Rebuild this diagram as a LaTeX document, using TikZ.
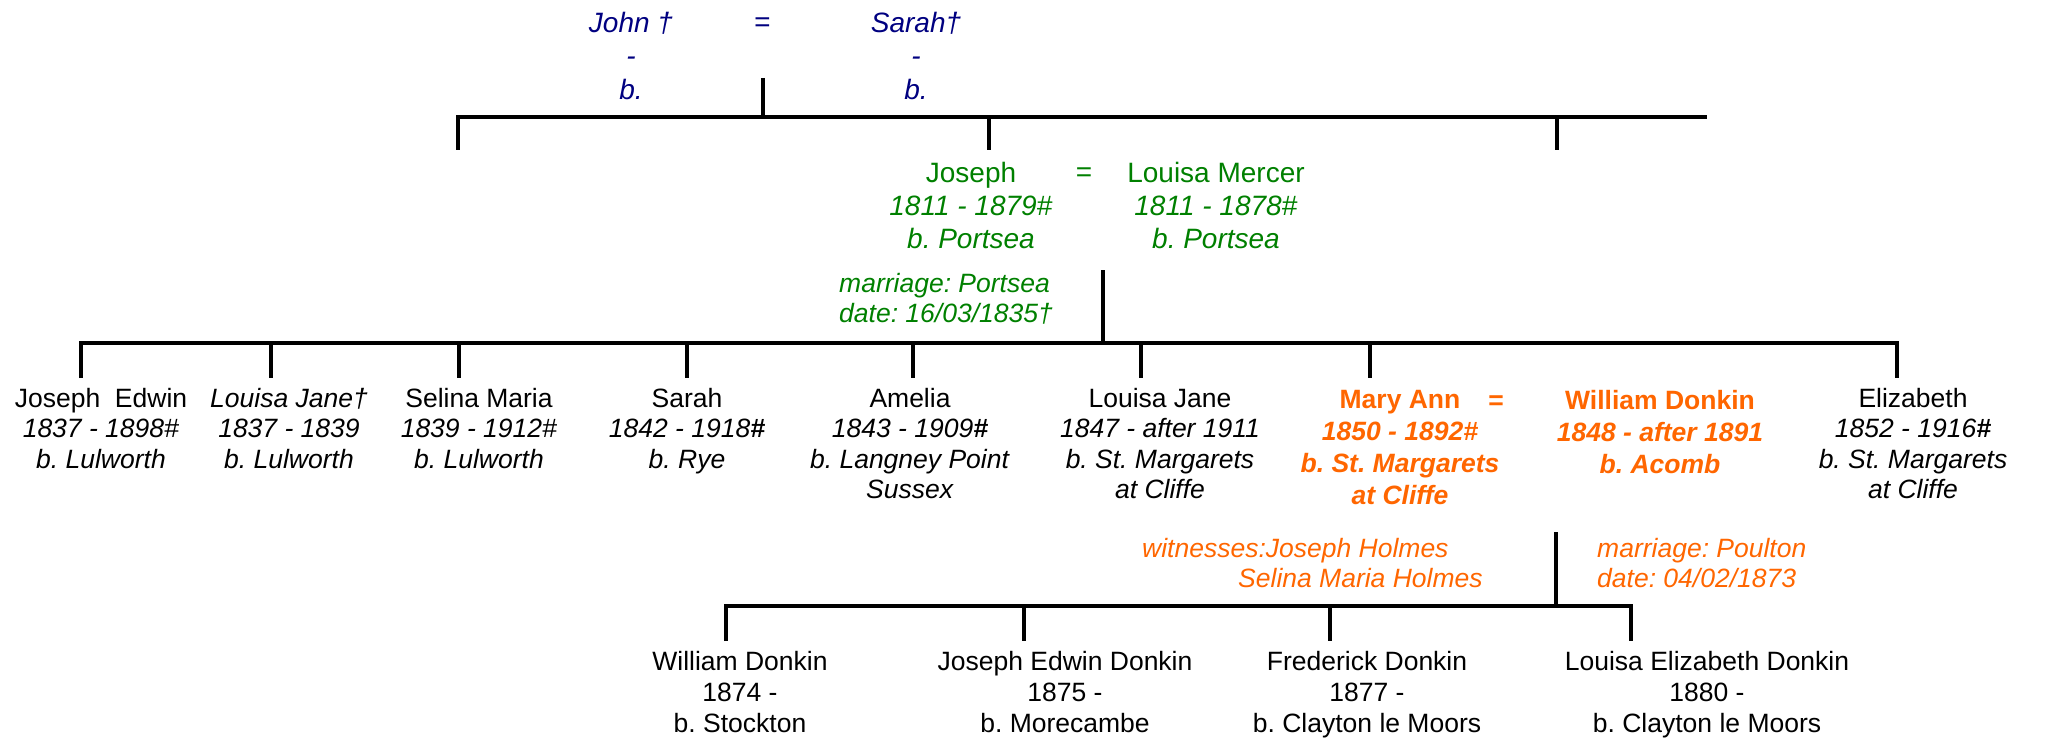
\documentclass[tikz,border=0pt]{standalone}
\usepackage{fontspec}
\setmainfont{Liberation Sans}
\frenchspacing
\definecolor{topblue}{RGB}{0,0,128}
\definecolor{famgreen}{RGB}{0,128,0}
\definecolor{donkin}{RGB}{255,102,0}

\begin{document}
\begin{tikzpicture}[x=1pt, y=-1pt,
    bar/.style={line width=4.5pt},
    every node/.style={inner sep=0pt, anchor=north, align=center,
      font=\fontsize{26.5}{30.5}\selectfont},
    gen1/.style={text=topblue, font=\fontsize{28}{33.5}\selectfont\itshape},
    gen2/.style={text=famgreen, font=\fontsize{28}{33}\selectfont},
    note/.style={text=famgreen, align=left, anchor=north west,
      font=\fontsize{26.5}{30.5}\selectfont\itshape},
    wed/.style={text=donkin, font=\fontsize{26.5}{32}\selectfont\bfseries},
    grand/.style={font=\fontsize{26.5}{31}\selectfont}]
  \useasboundingbox (0,0) rectangle (2051,741);

  % Grandparents
  \node[gen1] (john) at (631,11.6) {John †\\-\\b.};
  \node[gen1, anchor=base] (eq1) at (762,32) {=};
  \node[gen1] (sarahsr) at (916,11.6) {Sarah†\\-\\b.};

  % Parents
  \node[gen2] (joseph) at (971,161.6) {Joseph\\\textit{1811 - 1879\#}\\\textit{b. Portsea}};
  \node[gen2, anchor=base] (eq2) at (1084,182) {=};
  \node[gen2] (lmercer) at (1216,161.6) {Louisa Mercer\\\textit{1811 - 1878\#}\\\textit{b. Portsea}};
  \node[note] (wed1) at (839,272.6) {marriage: Portsea\\date: 16/03/1835†};

  % Children
  \node (jedwin) at (101,387.6) {Joseph\ \ Edwin\\\textit{1837 - 1898\#}\\\textit{b. Lulworth}};
  \node (ljanesr) at (289,387.6) {\textit{Louisa Jane†}\\\textit{1837 - 1839}\\\textit{b. Lulworth}};
  \node (selina) at (479,387.6) {Selina Maria\\\textit{1839 - 1912\#}\\\textit{b. Lulworth}};
  \node (sarah) at (687,387.6) {Sarah\\\textit{1842 - 1918\textbf{\#}}\\\textit{b. Rye}};
  \node (amelia) at (910,387.6) {Amelia\\\textit{1843 - 1909\textbf{\#}}\\\textit{b. Langney Point}\\\textit{Sussex}};
  \node (ljane) at (1160,387.6) {Louisa Jane\\\textit{1847 - after 1911}\\\textit{b. St. Margarets}\\\textit{at Cliffe}};
  \node[wed] (maryann) at (1400,389.6) {Mary Ann\\\textit{1850 - 1892\#}\\\textit{b. St. Margarets}\\\textit{at Cliffe}};
  \node[wed, anchor=base] (eq3) at (1496,409) {=};
  \node[wed] (wdonkin) at (1660,389.6) {William Donkin\\\textit{1848 - after 1891}\\\textit{b. Acomb}};
  \node (elizabeth) at (1913,387.6) {Elizabeth\\\textit{1852 - 1916\textbf{\#}}\\\textit{b. St. Margarets}\\\textit{at Cliffe}};

  \node[note, text=donkin] (witness) at (1142,537.6) {witnesses:Joseph Holmes\\\hspace*{96pt}Selina Maria Holmes};
  \node[note, text=donkin] (wed2) at (1597,537.6) {marriage: Poulton\\date: 04/02/1873};

  % Grandchildren
  \node[grand] (gwilliam) at (740,650.6) {William Donkin\\1874 -\\b. Stockton};
  \node[grand] (gjoseph) at (1065,650.6) {Joseph Edwin Donkin\\1875 -\\b. Morecambe};
  \node[grand] (gfrederick) at (1367,650.6) {Frederick Donkin\\1877 -\\b. Clayton le Moors};
  \node[grand] (glouisa) at (1707,650.6) {Louisa Elizabeth Donkin\\1880 -\\b. Clayton le Moors};

  % Lines
  \coordinate (top) at (763,78);
  \coordinate (tend) at (1707,117);
  \coordinate (t1) at (458,150);
  \coordinate (t2) at (989,150);
  \coordinate (t3) at (1557,150);
  \draw[bar] (top) -- (top |- tend);
  \draw[bar] (t1) |- (tend);
  \draw[bar] (t2 |- tend) -- (t2);
  \draw[bar] (t3 |- tend) -- (t3);

  \coordinate (wed1top) at (1103,270);
  \coordinate (kbar) at (1103,343);
  \foreach \n/\x in {1/81, 2/271, 3/459, 4/687, 5/913, 6/1141, 7/1370, 8/1897}
    \coordinate (k\n) at (\x,378);
  \draw[bar] (wed1top) -- (kbar);
  \draw[bar] (k1) |- (kbar) -| (k8);
  \foreach \n in {2,...,7}
    \draw[bar] (k\n |- kbar) -- (k\n);

  \coordinate (wed2top) at (1556,532);
  \coordinate (gbar) at (1556,606);
  \foreach \n/\x in {1/726, 2/1024, 3/1330, 4/1631}
    \coordinate (g\n) at (\x,641);
  \draw[bar] (wed2top) -- (gbar);
  \draw[bar] (g1) |- (gbar) -| (g4);
  \foreach \n in {2,3}
    \draw[bar] (g\n |- gbar) -- (g\n);
\end{tikzpicture}
\end{document}
